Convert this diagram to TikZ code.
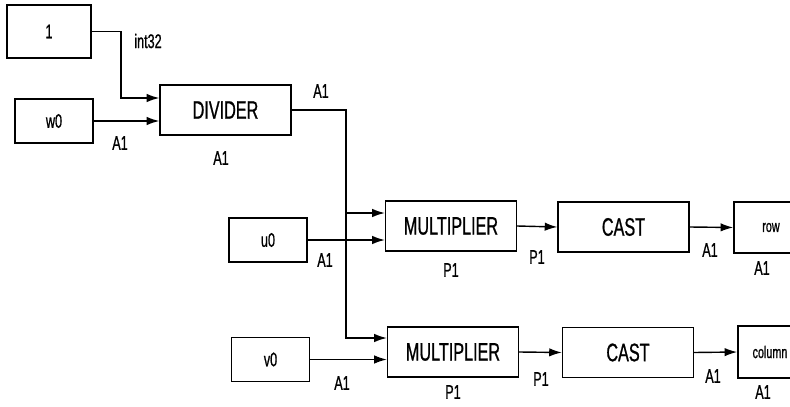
\documentclass[tikz,border=0pt]{standalone}
\usepackage{fontspec}
\setmainfont{Liberation Sans}[FakeStretch=0.64,FakeBold=0.8]
\usetikzlibrary{arrows.meta}

\begin{document}
\begin{tikzpicture}[x=0.025cm,y=-0.025cm,
  block/.style={draw,line width=1pt,inner sep=0pt,font=\fontsize{18}{20}\selectfont},
  src/.style={draw,line width=1.1pt,inner sep=0pt,minimum width=1.95cm,minimum height=1.1cm,font=\fontsize{14}{16}\selectfont},
  wide/.style={block,minimum width=3.27cm,minimum height=1.25cm},
  lbl/.style={font=\fontsize{14}{16}\selectfont,inner sep=0pt},
  arr/.style={line width=1pt,-{Latex[length=9pt,width=6pt]}},
  wire/.style={line width=1pt}]
\clip (0,0) rectangle (790,407);
\fill[white] (0,0) rectangle (790,407);
% sources
\node[src,minimum width=2.1cm,minimum height=1.325cm] (one) at (49,31.5) {1};
\node[src] (w0) at (54,121) {w0};
\node[src] (u0) at (268,240) {u0};
\node[src] (v0) at (270.5,359.5) {v0};
% blocks
\node[wide] (divider) at (225.5,110) {DIVIDER};
\node[wide] (mult1) at (451,226) {MULTIPLIER};
\node[wide] (mult2) at (453,352) {MULTIPLIER};
\node[wide] (cast1) at (623.5,227) {CAST};
\node[wide] (cast2) at (628,352.5) {CAST};
% sinks
\node[src,minimum width=1.85cm,minimum height=1.275cm,font=\fontsize{12}{14}\selectfont] (row) at (771,227.5) {row};
\node[src,minimum width=1.6cm,minimum height=1.3cm,font=\fontsize{12}{14}\selectfont] (column) at (770,352) {column};
% bends
\coordinate (bend1) at (121,98);
\coordinate (tapA) at (346,213);
\coordinate (tapB) at (346,338);
% connectors
\draw[arr] (one.east) -| (bend1) -- (bend1 -| divider.west);
\draw[arr] (w0.east) -- (w0.east -| divider.west);
\draw[wire] (divider.east) -| (tapA);
\draw[arr] (tapA) -- (tapA -| mult1.west);
\draw[arr] (tapA) -- (tapB) -- (tapB -| mult2.west);
\draw[arr] (u0.east) -- (u0.east -| mult1.west);
\draw[arr] (v0.east) -- (v0.east -| mult2.west);
\draw[arr] (mult1.east) -- (cast1.west);
\draw[arr] (mult2.east) -- (cast2.west);
\draw[arr] (cast1.east) -- (row.west);
\draw[arr] (cast2.east) -- (column.west);
% labels
\node[lbl] (t1) at (148,41) {int32};
\node[lbl] (t2) at (120,143) {A1};
\node[lbl] (t3) at (221,158) {A1};
\node[lbl] (t4) at (321,91) {A1};
\node[lbl] (t5) at (325,260) {A1};
\node[lbl] (t6) at (451,270) {P1};
\node[lbl] (t7) at (537,257) {P1};
\node[lbl] (t8) at (710,250) {A1};
\node[lbl] (t9) at (762,268) {A1};
\node[lbl] (t10) at (342,383) {A1};
\node[lbl] (t11) at (453,392) {P1};
\node[lbl] (t12) at (541,379) {P1};
\node[lbl] (t13) at (713,376) {A1};
\node[lbl] (t14) at (763,392) {A1};
\end{tikzpicture}
\end{document}
